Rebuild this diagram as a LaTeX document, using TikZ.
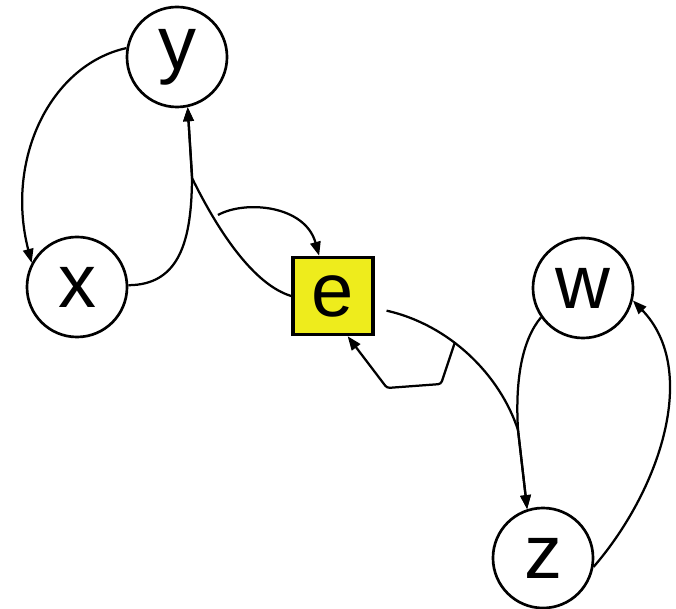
\documentclass[tikz,border=0pt]{standalone}
\usepackage{fontspec}
\setmainfont{Liberation Sans}
\usetikzlibrary{arrows.meta, calc}
\definecolor{boxyellow}{RGB}{238,236,28}

\begin{document}
\begin{tikzpicture}[x=0.025cm, y=-0.025cm,
  vert/.style={draw, circle, line width=1.9pt, minimum size=2.5cm, inner sep=0pt, font=\fontsize{54}{60}\selectfont},
  edge/.style={line width=1.6pt, -{Triangle[length=0.35cm, width=0.26cm]}}]
\useasboundingbox (0,0) rectangle (676,609);

% states
\node[vert] (y) at (177,57) {y};
\node[vert] (x) at (77,287) {x};
\node[vert] (w) at (583,288) {w};
\node[vert] (z) at (543,558) {z};
\node[draw, line width=2.6pt, fill=boxyellow, minimum width=2cm, minimum height=1.92cm, inner sep=0pt, font=\fontsize{54}{60}\selectfont] (e) at (333,296) {e};

\coordinate (ye) at (218,215);
\coordinate (loop) at (455,342);

% left pair
\draw[edge] (y.170) .. controls (50,65) and (5,160) .. (x.152);
\draw[edge] (x.2) .. controls (180,285) and (192,240) .. (192,175) -- (y.282);
\draw[edge] (e.west) .. controls (255,285) and (220,235) .. (192,178) -- (y.282);
\draw[edge] (ye) .. controls (245,200) and (305,205) .. (e.109);

% right pair
\draw[edge, shorten <=0.3cm] (e.344) .. controls (450,325) and (500,375) .. (518,430) -- (z.108);
\draw[edge, rounded corners=2pt] (loop) -- (441,384) -- (387,388) -- (e.290);
\draw[edge] (w.215) .. controls (522,340) and (515,380) .. (518,430) -- (z.108);
\draw[edge] (z.350) .. controls (660,490) and (700,370) .. (w.346);
\end{tikzpicture}
\end{document}
